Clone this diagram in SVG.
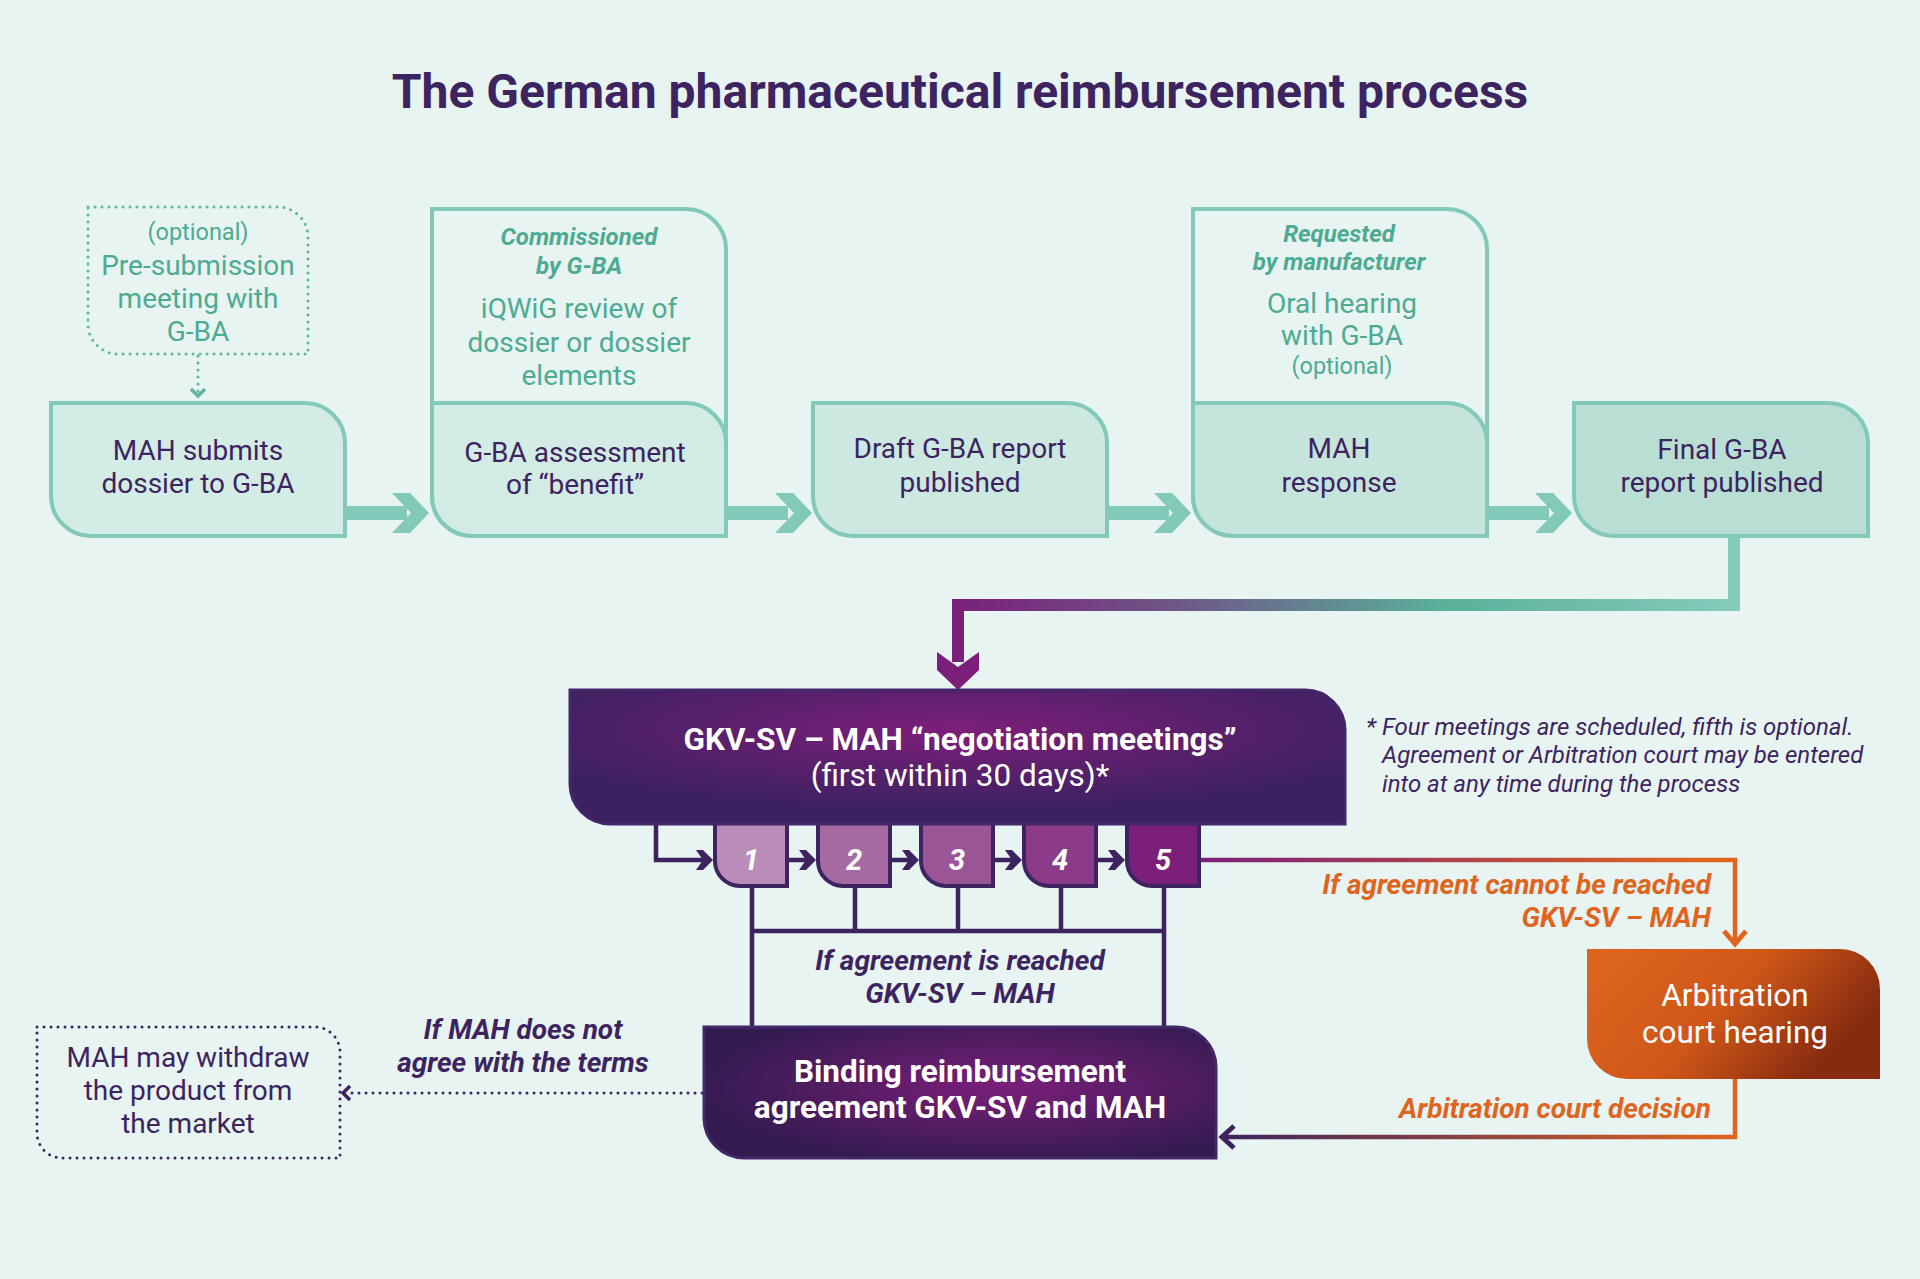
<svg xmlns="http://www.w3.org/2000/svg" width="1920" height="1279" viewBox="0 0 1920 1279">
<defs>
<style>
text{font-family:Roboto,"Liberation Sans",sans-serif;text-anchor:middle}
.title{font-size:48px;font-weight:700;fill:#3d2460}
.dark{fill:#3d2460;font-size:28px}
.teal{fill:#4dab91;font-size:28px}
.tealsm{fill:#4dab91;font-size:23.5px}
.tealbi{fill:#4dab91;font-size:24px;font-weight:700;font-style:italic}
.lbl{fill:#3d2460;font-size:28px;font-weight:700;font-style:italic}
.olbl{fill:#e0641e;font-size:28px;font-weight:700;font-style:italic;text-anchor:end}
.wb{fill:#fff;font-size:31.5px;font-weight:700}
.wr{fill:#fff;font-size:31.5px}
.num{fill:#fff;font-size:29px;font-weight:700;font-style:italic}
.note{fill:#3d2460;font-size:24px;font-style:italic;text-anchor:start}
.tbox{stroke:#82c9b9;stroke-width:4}
.mbox{stroke:#3d2460;stroke-width:4}
.pl{fill:none;stroke:#3d2460;stroke-width:4.5}
</style>
<radialGradient id="gNeg" cx="0.5" cy="0.3" r="0.6">
<stop offset="0" stop-color="#7d1f7a"/>
<stop offset="1" stop-color="#3b2160"/>
</radialGradient>
<radialGradient id="gBind" cx="0.58" cy="0.45" r="0.6">
<stop offset="0" stop-color="#7b1f7a"/>
<stop offset="1" stop-color="#331b50"/>
</radialGradient>
<linearGradient id="gArb" x1="0" y1="0" x2="1" y2="0.4">
<stop offset="0" stop-color="#e0661f"/>
<stop offset="0.55" stop-color="#cf5718"/>
<stop offset="1" stop-color="#862b10"/>
</linearGradient>
<linearGradient id="gTop" gradientUnits="userSpaceOnUse" x1="952" y1="0" x2="1740" y2="0">
<stop offset="0" stop-color="#7b1f7a"/>
<stop offset="0.3" stop-color="#6d5a88"/>
<stop offset="0.62" stop-color="#5ab09a"/>
<stop offset="1" stop-color="#85cbbb"/>
</linearGradient>
<linearGradient id="gNo" gradientUnits="userSpaceOnUse" x1="1201" y1="0" x2="1700" y2="0">
<stop offset="0" stop-color="#7b1f7a"/>
<stop offset="1" stop-color="#e0641e"/>
</linearGradient>
<linearGradient id="gDec" gradientUnits="userSpaceOnUse" x1="1221" y1="0" x2="1735" y2="0">
<stop offset="0" stop-color="#3d2460"/>
<stop offset="1" stop-color="#e0641e"/>
</linearGradient>
</defs>
<rect width="1920" height="1279" fill="#e7f4f1"/>
<text class="title" x="960" y="108">The German pharmaceutical reimbursement process</text>

<g id="connectors">
<g fill="#82c9b9">
<rect x="345" y="506" width="62" height="14"/>
<polygon points="392,493 410,493 429,513 410,533 392,533 411,513"/>
<rect x="726" y="506" width="62" height="14"/>
<polygon points="775,493 793,493 812,513 793,533 775,533 794,513"/>
<rect x="1107" y="506" width="62" height="14"/>
<polygon points="1154,493 1172,493 1191,513 1172,533 1154,533 1173,513"/>
<rect x="1487" y="506" width="62" height="14"/>
<polygon points="1535,493 1553,493 1572,513 1553,533 1535,533 1554,513"/>
</g>
<path d="M198,356 V392" fill="none" stroke="#5fb5a0" stroke-width="3" stroke-dasharray="0 7" stroke-linecap="round"/>
<polyline points="191,389 198,396 205,389" fill="none" stroke="#5fb5a0" stroke-width="3.5"/>
<path d="M1734,535 V605 H958 V662" fill="none" stroke="url(#gTop)" stroke-width="12"/>
<polygon points="937,652 937,670 958,690 979,670 979,652 958,667" fill="#7b1f7a"/>
<path class="pl" d="M656,824 V860 H705"/>
<path class="pl" d="M787,860 H808 M891,860 H911 M994,860 H1014 M1097,860 H1117"/>
<g fill="#3d2460">
<polygon points="696,850 703,850 713,860 703,870 696,870 703,860"/>
<polygon points="799,850 806,850 816,860 806,870 799,870 806,860"/>
<polygon points="902,850 909,850 919,860 909,870 902,870 909,860"/>
<polygon points="1005,850 1012,850 1022,860 1012,870 1005,870 1012,860"/>
<polygon points="1108,850 1115,850 1125,860 1115,870 1108,870 1115,860"/>
</g>
<path class="pl" d="M752,886 V1028 M855,886 V931 M958,886 V931 M1061,886 V931 M1164,886 V1028 M750,931 H1166"/>
<path d="M1201,860 H1735 V942" fill="none" stroke="url(#gNo)" stroke-width="4.5"/>
<polyline points="1724,931 1735,944 1746,931" fill="none" stroke="#e0641e" stroke-width="5"/>
<path d="M1735,1079 V1137 H1224" fill="none" stroke="url(#gDec)" stroke-width="4.5"/>
<polyline points="1234,1126 1222,1137 1234,1148" fill="none" stroke="#3d2460" stroke-width="5"/>
<path d="M702,1093 H350" fill="none" stroke="#3d2460" stroke-width="3" stroke-dasharray="0 7" stroke-linecap="round"/>
<polyline points="350,1086 343,1093 350,1100" fill="none" stroke="#3d2460" stroke-width="3.5"/>
</g>

<g id="pre-submission">
<path d="M88,207 H278 A30,30 0 0 1 308,237 V354 H118 A30,30 0 0 1 88,324 Z" fill="none" stroke="#5fb5a0" stroke-width="3" stroke-dasharray="0 7" stroke-linecap="round"/>
<text class="tealsm" x="198" y="240">(optional)</text>
<text class="teal" x="198" y="275">Pre-submission</text>
<text class="teal" x="198" y="308">meeting with</text>
<text class="teal" x="198" y="341">G-BA</text>
</g>

<g id="mah-submits">
<path class="tbox" d="M51,403 H305 A40,40 0 0 1 345,443 V536 H91 A40,40 0 0 1 51,496 Z" fill="#d4ece6"/>
<text class="dark" x="198" y="460">MAH submits</text>
<text class="dark" x="198" y="493">dossier to G-BA</text>
</g>

<g id="gba-assessment">
<path class="tbox" d="M432,209 H686 A40,40 0 0 1 726,249 V536 H472 A40,40 0 0 1 432,496 Z" fill="#e7f4f1"/>
<path class="tbox" d="M432,403 H686 A40,40 0 0 1 726,443 V536 H472 A40,40 0 0 1 432,496 Z" fill="#d2ebe5"/>
<text class="tealbi" x="579" y="245">Commissioned</text>
<text class="tealbi" x="579" y="274">by G-BA</text>
<text class="teal" x="579" y="318">iQWiG review of</text>
<text class="teal" x="579" y="352">dossier or dossier</text>
<text class="teal" x="579" y="385">elements</text>
<text class="dark" x="575" y="462">G-BA assessment</text>
<text class="dark" x="575" y="494">of “benefit”</text>
</g>

<g id="draft-report">
<path class="tbox" d="M813,403 H1067 A40,40 0 0 1 1107,443 V536 H853 A40,40 0 0 1 813,496 Z" fill="#cce8e0"/>
<text class="dark" x="960" y="458">Draft G-BA report</text>
<text class="dark" x="960" y="492">published</text>
</g>

<g id="mah-response">
<path class="tbox" d="M1193,209 H1447 A40,40 0 0 1 1487,249 V536 H1233 A40,40 0 0 1 1193,496 Z" fill="#e7f4f1"/>
<path class="tbox" d="M1193,403 H1447 A40,40 0 0 1 1487,443 V536 H1233 A40,40 0 0 1 1193,496 Z" fill="#c5e4dc"/>
<text class="tealbi" x="1339" y="242">Requested</text>
<text class="tealbi" x="1339" y="270">by manufacturer</text>
<text class="teal" x="1342" y="313">Oral hearing</text>
<text class="teal" x="1342" y="345">with G-BA</text>
<text class="tealsm" x="1342" y="374">(optional)</text>
<text class="dark" x="1339" y="458">MAH</text>
<text class="dark" x="1339" y="492">response</text>
</g>

<g id="final-report">
<path class="tbox" d="M1574,403 H1828 A40,40 0 0 1 1868,443 V536 H1614 A40,40 0 0 1 1574,496 Z" fill="#b9dfd5"/>
<text class="dark" x="1722" y="459">Final G-BA</text>
<text class="dark" x="1722" y="492">report published</text>
</g>

<g id="meetings">
<path class="mbox" d="M715,818 H787 V886 H740 A25,25 0 0 1 715,861 Z" fill="#b98cba"/>
<path class="mbox" d="M818,818 H890 V886 H843 A25,25 0 0 1 818,861 Z" fill="#a66ba3"/>
<path class="mbox" d="M921,818 H993 V886 H946 A25,25 0 0 1 921,861 Z" fill="#9a5597"/>
<path class="mbox" d="M1024,818 H1096 V886 H1049 A25,25 0 0 1 1024,861 Z" fill="#8b3b88"/>
<path class="mbox" d="M1127,818 H1199 V886 H1152 A25,25 0 0 1 1127,861 Z" fill="#7b1f7a"/>
<text class="num" x="751" y="870">1</text>
<text class="num" x="854" y="870">2</text>
<text class="num" x="957" y="870">3</text>
<text class="num" x="1060" y="870">4</text>
<text class="num" x="1163" y="870">5</text>
</g>

<g id="negotiation">
<path d="M570,690 H1305 A40,40 0 0 1 1345,730 V824 H610 A40,40 0 0 1 570,784 Z" fill="url(#gNeg)" stroke="#43276b" stroke-width="3"/>
<text class="wb" x="960" y="750">GKV-SV – MAH “negotiation meetings”</text>
<text class="wr" x="960" y="786">(first within 30 days)*</text>
</g>

<g id="footnote">
<text class="note" x="1366" y="735">* Four meetings are scheduled, fifth is optional.</text>
<text class="note" x="1382" y="763">Agreement or Arbitration court may be entered</text>
<text class="note" x="1382" y="792">into at any time during the process</text>
</g>

<g id="labels">
<text class="lbl" x="960" y="970">If agreement is reached</text>
<text class="lbl" x="960" y="1003">GKV-SV – MAH</text>
<text class="olbl" x="1711" y="894">If agreement cannot be reached</text>
<text class="olbl" x="1711" y="927">GKV-SV – MAH</text>
<text class="olbl" x="1711" y="1118">Arbitration court decision</text>
<text class="lbl" x="523" y="1039">If MAH does not</text>
<text class="lbl" x="523" y="1072">agree with the terms</text>
</g>

<g id="binding">
<path d="M704,1027 H1176 A40,40 0 0 1 1216,1067 V1158 H744 A40,40 0 0 1 704,1118 Z" fill="url(#gBind)" stroke="#43276b" stroke-width="3"/>
<text class="wb" x="960" y="1082">Binding reimbursement</text>
<text class="wb" x="960" y="1118">agreement GKV-SV and MAH</text>
</g>

<g id="arbitration">
<path d="M1587,949 H1840 A40,40 0 0 1 1880,989 V1079 H1627 A40,40 0 0 1 1587,1039 Z" fill="url(#gArb)"/>
<text class="wr" x="1735" y="1006" font-size="31px">Arbitration</text>
<text class="wr" x="1735" y="1043" font-size="31px">court hearing</text>
</g>

<g id="withdraw">
<path d="M37,1027 H315 A25,25 0 0 1 340,1052 V1158 H62 A25,25 0 0 1 37,1133 Z" fill="none" stroke="#3d2460" stroke-width="3" stroke-dasharray="0 7" stroke-linecap="round"/>
<text class="dark" x="188" y="1067">MAH may withdraw</text>
<text class="dark" x="188" y="1100">the product from</text>
<text class="dark" x="188" y="1133">the market</text>
</g>
</svg>
